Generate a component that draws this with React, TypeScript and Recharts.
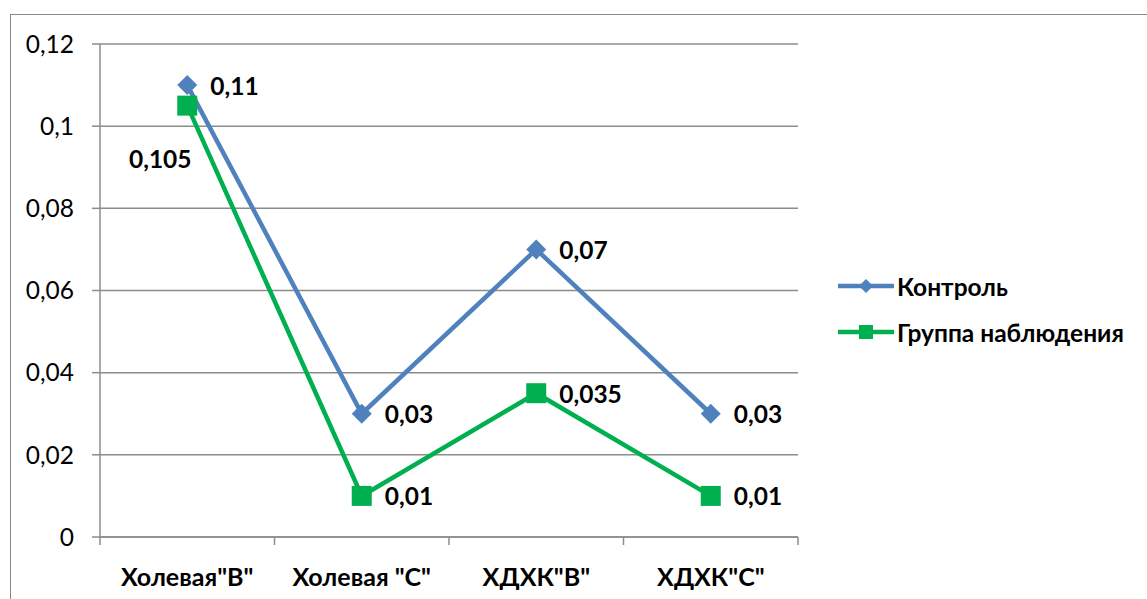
import React from 'react';
import { LineChart, Line, XAxis, YAxis, CartesianGrid, Legend, LabelList } from 'recharts';

const categories = ['Холевая"В"', 'Холевая "С"', 'ХДХК"В"', 'ХДХК"С"'];
const controlValues = [0.11, 0.03, 0.07, 0.03];
const observedValues = [0.105, 0.01, 0.035, 0.01];
const yTicks = [0, 0.02, 0.04, 0.06, 0.08, 0.1, 0.12];
const seriesNames = ['Контроль', 'Группа наблюдения'];

const BLUE = '#4f81bd';
const GREEN = '#00b050';
const GRID = '#8c8c8c';
const FONT = 'Lato, "Open Sans", sans-serif';

const TICK_SIZE = 8;
const TICK_MARGIN = 31;

// categories sit in the middle of each band, tick marks on the band edges
const data = categories.map((name, i) => ({
  name,
  pos: i + 0.5,
  control: controlValues[i],
  observed: observedValues[i],
}));
const xTicks = Array.from({ length: categories.length * 2 + 1 }, (_, i) => i / 2);

const fmt = (v: number) => String(Math.round(v * 1000) / 1000).replace('.', ',');

const XTick = (props: any) => {
  const { x, y, payload } = props;
  const v = payload.value as number;
  if (Number.isInteger(v)) {
    return (
      <line x1={x} x2={x} y1={y - TICK_MARGIN - TICK_SIZE} y2={y - TICK_MARGIN} stroke={GRID} strokeWidth={1.5} />
    );
  }
  return (
    <text x={x} y={y} textAnchor="middle" dominantBaseline="central" fontFamily={FONT} fontWeight={700} fontSize={25} fill="#000">
      {categories[Math.floor(v)]}
    </text>
  );
};

const Diamond = (props: any) => {
  const { cx, cy } = props;
  if (cx == null || cy == null) return null;
  const r = 10;
  return <polygon points={`${cx},${cy - r} ${cx + r},${cy} ${cx},${cy + r} ${cx - r},${cy}`} fill={BLUE} />;
};

const Square = (props: any) => {
  const { cx, cy } = props;
  if (cx == null || cy == null) return null;
  const s = 20;
  return <rect x={cx - s / 2} y={cy - s / 2} width={s} height={s} fill={GREEN} />;
};

const ValueLabel = (props: any) => {
  const { x, y, value, index, below } = props;
  // the first observed label sits under-left of its marker so it clears the blue line
  const moved = below && index === 0;
  return (
    <text
      x={moved ? x - 27 : x + 23}
      y={moved ? y + 53 : y}
      textAnchor={moved ? 'middle' : 'start'}
      dominantBaseline="central"
      fontFamily={FONT}
      fontWeight={700}
      fontSize={24.5}
      fill="#000"
    >
      {fmt(value)}
    </text>
  );
};

const LegendBox = () => (
  <div style={{ fontFamily: FONT, fontWeight: 700, fontSize: 24.5, color: '#000' }}>
    {seriesNames.map((name, i) => (
      <div key={name} style={{ display: 'flex', alignItems: 'center', height: 46 }}>
        <svg width={56} height={20} style={{ marginRight: 3 }}>
          <line x1={0} x2={56} y1={10} y2={10} stroke={i === 0 ? BLUE : GREEN} strokeWidth={4.5} />
          {i === 0 ? (
            <polygon points="28,3 35,10 28,17 21,10" fill={BLUE} />
          ) : (
            <rect x={21} y={3} width={14} height={14} fill={GREEN} />
          )}
        </svg>
        <span>{name}</span>
      </div>
    ))}
  </div>
);

export default function App() {
  return (
    <div style={{ position: 'relative', width: 1147, height: 599, overflow: 'hidden', background: '#fff' }}>
      <style>{'body{margin:0}'}</style>
      <div
        style={{
          position: 'absolute',
          left: 10,
          top: 14,
          width: 1200,
          height: 700,
          border: '1.5px solid #8a8a8a',
        }}
      />
      <div style={{ position: 'absolute', left: 0, top: 0 }}>
        <LineChart width={1147} height={599} data={data} margin={{ top: 44, right: 349, left: 0, bottom: 0 }}>
          <CartesianGrid vertical={false} stroke={GRID} strokeWidth={1.5} />
          <XAxis
            type="number"
            dataKey="pos"
            domain={[0, categories.length]}
            ticks={xTicks}
            interval={0}
            height={62}
            tickLine={false}
            tickSize={TICK_SIZE}
            tickMargin={TICK_MARGIN}
            axisLine={{ stroke: GRID, strokeWidth: 1.5 }}
            tick={<XTick />}
          />
          <YAxis
            width={100}
            domain={[0, 0.12]}
            ticks={yTicks}
            interval={0}
            tickSize={TICK_SIZE}
            tickMargin={18}
            tickFormatter={fmt}
            axisLine={{ stroke: GRID, strokeWidth: 1.5 }}
            tickLine={{ stroke: GRID, strokeWidth: 1.5 }}
            tick={{ fontFamily: FONT, fontSize: 24.5, fill: '#000' }}
          />
          <Legend
            layout="vertical"
            align="center"
            verticalAlign="middle"
            content={<LegendBox />}
            wrapperStyle={{ left: 838, top: 263, width: 'auto' }}
          />
          <Line
            type="linear"
            dataKey="control"
            name={seriesNames[0]}
            stroke={BLUE}
            strokeWidth={4.5}
            dot={<Diamond />}
            activeDot={false}
            isAnimationActive={false}
          >
            <LabelList dataKey="control" content={<ValueLabel />} />
          </Line>
          <Line
            type="linear"
            dataKey="observed"
            name={seriesNames[1]}
            stroke={GREEN}
            strokeWidth={4.5}
            dot={<Square />}
            activeDot={false}
            isAnimationActive={false}
          >
            <LabelList dataKey="observed" content={<ValueLabel below />} />
          </Line>
        </LineChart>
      </div>
    </div>
  );
}
